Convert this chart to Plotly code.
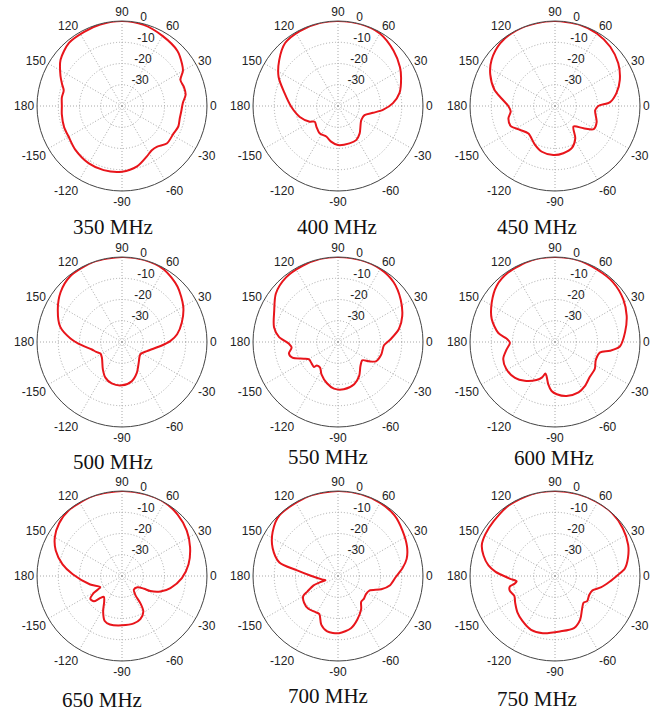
import plotly.graph_objects as go

# ---- data (angle in degrees, gain in dB) ----
freq_labels = ["350 MHz", "400 MHz", "450 MHz", "500 MHz", "550 MHz", "600 MHz", "650 MHz", "700 MHz", "750 MHz"]

theta_350 = [90, 75, 60, 45, 35, 30, 24, 17, 10, 3, -5, -12, -20, -28, -40, -49, -56, -64, -76, -90, -106, -120, -137, -150, -160, -172, 180, 172, 165, 160, 154, 143, 130, 117, 105]
db_350 = [0, -0.5, -1.9, -3.2, -5.5, -6.9, -9.9, -9.5, -9.6, -11.3, -12.0, -12.2, -11.8, -12.5, -12.5, -14.7, -14.9, -13.5, -10.7, -9.1, -8.6, -8.8, -9.9, -11.0, -11.0, -11.4, -11.7, -11.4, -11.6, -10.0, -7.8, -3.8, -1.2, -0.8, -0.3]

theta_400 = [90, 75, 60, 45, 32, 24, 12, 3, -5, -11, -19, -31, -52, -62, -73, -90, -101, -111, -124, -136, -146, -151, -164, -179, 167, 154, 142, 130, 117, 102]
db_400 = [0, 0, -0.6, -3.1, -5.6, -7.5, -10.4, -14.1, -18.8, -23.2, -26.8, -27.2, -23.5, -21.8, -21.6, -21.6, -22.9, -24.6, -24.5, -25.9, -26.8, -24.8, -21.3, -18.0, -14.3, -8.9, -4.9, -1.3, -0.4, 0]

theta_450 = [90, 73, 60, 47, 34, 22, 12, 4, 0, -6, -21, -31, -38, -48, -58, -68, -80, -92, -106, -118, -134, -146, -156, -165, -173, 180, 172, 165, 154, 144, 131, 117, 103]
db_450 = [0, 0, -0.6, -1.9, -4.1, -7.1, -10.4, -14.0, -19.6, -21.0, -19.0, -18.8, -23.0, -27.0, -22.0, -18.7, -17.4, -16.9, -17.6, -19.6, -22.0, -20.0, -17.1, -17.3, -19.0, -18.0, -14.6, -10.5, -6.1, -3.1, -0.8, 0, 0]

theta_500 = [90, 75, 60, 45, 30, 18, 8, 1, -6, -20, -34, -51, -64, -76, -90, -104, -115, -125, -142, -152, -159, -166, -175, 176, 166, 153, 141, 128, 110]
db_500 = [0, 0, -0.6, -3.1, -6.7, -10.4, -13.8, -17.3, -21.8, -27.5, -29.6, -27.5, -24.0, -21.0, -19.6, -19.9, -21.5, -24.3, -28.0, -28.5, -27.0, -25.4, -21.2, -15.7, -10.0, -6.1, -2.8, -0.6, 0]

theta_550 = [90, 75, 60, 47, 34, 22, 12, 3, -4, -16, -27, -32, -37, -47, -58, -69, -83, -95, -105, -117, -125, -132, -134, -141, -149, -154, -161, -167, -173, -178, 175, 167, 154, 142, 129, 115, 102]
db_550 = [0, 0, -0.3, -1.6, -4.4, -7.4, -10.7, -15.2, -18.3, -18.8, -20.0, -22.9, -25.7, -24.5, -21.2, -18.7, -17.6, -18.0, -19.9, -22.9, -25.3, -25.1, -23.7, -24.0, -24.1, -22.1, -17.3, -16.3, -18.0, -16.9, -12.1, -9.1, -6.6, -2.9, -1.0, -0.5, 0]

theta_600 = [90, 75, 60, 46, 32, 20, 8, -4, -9, -13, -24, -34, -45, -56, -65, -78, -88, -94, -99, -104, -107, -110, -116, -128, -138, -151, -162, -171, -179, 176, 171, 160, 148, 136, 124, 106]
db_600 = [0, 0, -0.6, -0.8, -2.1, -4.1, -6.7, -9.4, -13.8, -18.2, -19.0, -17.4, -16.8, -14.9, -13.8, -14.0, -15.4, -16.9, -19.8, -23.5, -24.5, -22.3, -20.1, -16.8, -14.7, -13.8, -14.4, -16.9, -18.8, -17.2, -13.0, -8.3, -4.9, -1.9, -0.6, 0]

theta_650 = [90, 75, 60, 48, 35, 23, 10, -2, -14, -22, -28, -30, -36, -49, -55, -56, -59, -67, -76, -90, -104, -111, -118, -125, -131, -135, -138, -144, -149, -153, -165, 178, 169, 159, 150, 140, 129, 110]
db_650 = [0, 0, 0, -1.0, -2.8, -5.2, -8.2, -11.8, -16.5, -20.5, -24.9, -28.0, -31.0, -31.5, -28.9, -24.5, -20.5, -17.9, -17.0, -16.8, -16.5, -17.3, -21.1, -25.4, -27.0, -25.0, -22.2, -21.6, -24.5, -28.5, -24.5, -16.8, -11.5, -6.6, -3.5, -1.4, -0.2, 0]

theta_700 = [90, 74, 60, 47, 35, 23, 14, 7, -1, -10, -17, -25, -33, -41, -48, -55, -66, -76, -89, -101, -109, -116, -122, -132, -142, -150, -153, -159, -161, -161, -168, 179, 172, 167, 157, 146, 134, 110]
db_700 = [0, 0, -0.3, -1.0, -2.9, -4.7, -6.7, -9.4, -12.8, -15.1, -18.7, -23.7, -24.3, -23.8, -23.7, -21.0, -17.6, -14.7, -13.1, -13.4, -15.8, -20.0, -20.0, -19.2, -19.7, -21.1, -23.8, -27.7, -31.2, -33.8, -32.3, -26.9, -20.3, -11.7, -6.6, -2.9, -0.3, 0]

theta_750 = [90, 75, 61, 48, 35, 23, 14, 6, 1, -6, -14, -21, -29, -38, -43, -51, -60, -70, -85, -102, -114, -126, -136, -146, -154, -162, -167, -169, -172, -176, -180, 176, 171, 164, 157, 149, 138, 123, 106]
db_750 = [0, 0, 0, 0, -1.0, -2.6, -4.6, -7.0, -10.4, -14.2, -17.8, -21.1, -21.6, -20.8, -21.6, -19.8, -16.3, -13.9, -13.8, -12.5, -12.3, -13.9, -15.4, -17.4, -18.7, -17.6, -18.2, -20.5, -21.8, -19.2, -16.0, -12.0, -8.3, -5.0, -2.6, -1.8, -1.3, -0.3, 0]

thetas = [theta_350, theta_400, theta_450, theta_500, theta_550, theta_600, theta_650, theta_700, theta_750]
gains = [db_350, db_400, db_450, db_500, db_550, db_600, db_650, db_700, db_750]

angle_ticks = [0, 30, 60, 90, 120, 150, 180, 210, 240, 270, 300, 330]
angle_text = ["0", "30", "60", "90", "120", "150", "180", "-150", "-120", "-90", "-60", "-30"]
radial_ticks = [-30, -20, -10, 0]
radial_text = ["-30", "-20", "-10", "0"]

# ---- layout geometry (pixels) ----
W, H = 663, 714
R = 85
centers = [(122, 106), (338, 106), (555, 106),
           (122, 342), (338, 342), (555, 342),
           (122, 576), (338, 576), (555, 576)]
label_pos = [(113, 227), (337, 227), (537, 227),
             (113, 462), (328, 457), (554, 458),
             (102, 700), (328, 696), (537, 699)]

fig = go.Figure()
layout_polars = {}
annotations = []
for i in range(9):
    pid = "polar" if i == 0 else f"polar{i+1}"
    th = thetas[i] + [thetas[i][0]]
    rr = gains[i] + [gains[i][0]]
    fig.add_trace(go.Scatterpolar(
        theta=th, r=rr, mode="lines", subplot=pid, showlegend=False,
        hoverinfo="skip",
        line=dict(color="#e8151b", width=2, shape="spline", smoothing=0.8)))
    cx, cy = centers[i]
    layout_polars[pid] = dict(
        domain=dict(x=[(cx - R) / W, (cx + R) / W],
                    y=[(H - cy - R) / H, (H - cy + R) / H]),
        bgcolor="white",
        angularaxis=dict(
            rotation=0, direction="counterclockwise",
            tickmode="array", tickvals=angle_ticks, ticktext=angle_text,
            ticks="", showline=True, linecolor="#444", linewidth=1,
            gridcolor="#a8a8a8", griddash="1px,2px", gridwidth=1,
            tickfont=dict(family="Liberation Sans, Arial", size=12, color="#222")),
        radialaxis=dict(
            range=[-40, 0], tickmode="array", tickvals=radial_ticks,
            ticktext=[t + "<br> " for t in radial_text],
            angle=82, tickangle=82, side="clockwise",
            showline=False, ticks="",
            gridcolor="#a8a8a8", griddash="1px,2px", gridwidth=1,
            tickfont=dict(family="Liberation Sans, Arial", size=12, color="#222")),
    )
    lx, ly = label_pos[i]
    annotations.append(dict(
        text=freq_labels[i], x=lx / W, y=1 - ly / H, xref="paper", yref="paper",
        xanchor="center", yanchor="middle", showarrow=False,
        font=dict(family="Liberation Serif, Times New Roman", size=21, color="#111")))

fig.update_layout(
    width=W, height=H, margin=dict(l=0, r=0, t=0, b=0),
    paper_bgcolor="white", plot_bgcolor="white",
    annotations=annotations, **layout_polars)

fig.write_html("out.html")
